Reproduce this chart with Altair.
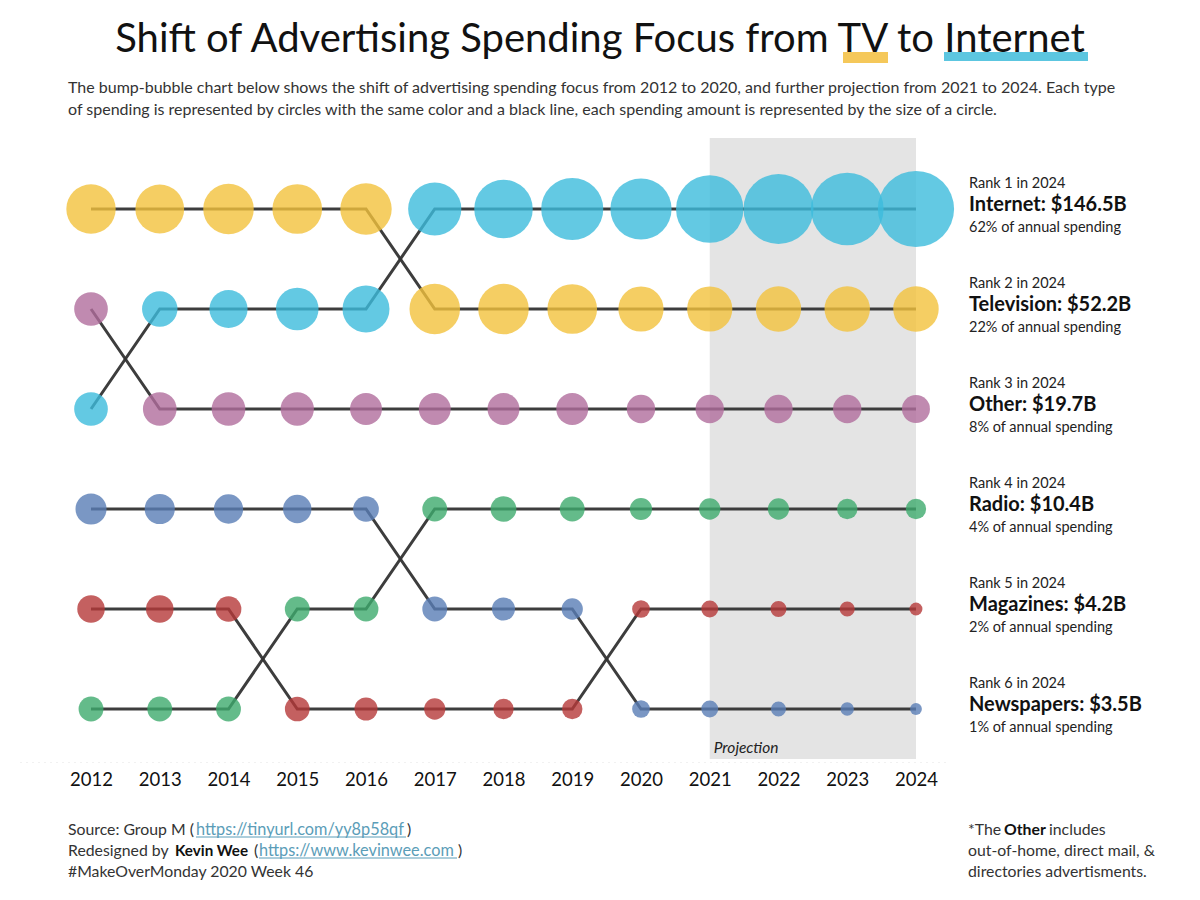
import altair as alt
import pandas as pd

# ---------------- data ----------------
years = [2012, 2013, 2014, 2015, 2016, 2017, 2018, 2019, 2020, 2021, 2022, 2023, 2024]
categories = ["Television", "Internet", "Other", "Radio", "Magazines", "Newspapers"]

tv_spend = [61.5, 60.0, 64.4, 62.2, 66.7, 64.4, 64.4, 62.2, 51.6, 51.6, 51.8, 52.0, 52.2]
internet_spend = [28.6, 31.7, 36.7, 45.7, 55.7, 71.4, 86.4, 97.2, 94.4, 114.6, 123.8, 133.4, 146.5]
other_spend = [28.6, 28.6, 28.6, 28.0, 25.7, 25.7, 25.7, 25.7, 20.3, 20.3, 20.3, 20.3, 19.7]
radio_spend = [15.6, 15.6, 15.6, 15.6, 15.6, 15.6, 16.7, 15.6, 12.4, 11.4, 11.4, 10.5, 10.4]
magazines_spend = [19.1, 19.1, 16.7, 15.4, 13.4, 11.4, 10.5, 10.5, 7.9, 7.2, 6.4, 5.7, 4.2]
newspapers_spend = [24.3, 22.9, 21.6, 20.3, 16.7, 15.6, 13.4, 11.4, 7.9, 7.2, 5.7, 4.5, 3.5]

tv_rank = [1, 1, 1, 1, 1, 2, 2, 2, 2, 2, 2, 2, 2]
internet_rank = [3, 2, 2, 2, 2, 1, 1, 1, 1, 1, 1, 1, 1]
other_rank = [2, 3, 3, 3, 3, 3, 3, 3, 3, 3, 3, 3, 3]
radio_rank = [6, 6, 6, 5, 5, 4, 4, 4, 4, 4, 4, 4, 4]
magazines_rank = [5, 5, 5, 6, 6, 6, 6, 6, 5, 5, 5, 5, 5]
newspapers_rank = [4, 4, 4, 4, 4, 5, 5, 5, 6, 6, 6, 6, 6]

colors = ["#F2C23C", "#3CBBDC", "#B06D9C", "#3DAA6D", "#B53838", "#597DB5"]

label_ranks = [1, 2, 3, 4, 5, 6]
label_rank_text = ["Rank 1 in 2024", "Rank 2 in 2024", "Rank 3 in 2024",
                   "Rank 4 in 2024", "Rank 5 in 2024", "Rank 6 in 2024"]
label_names = ["Internet: $146.5B", "Television: $52.2B", "Other: $19.7B",
               "Radio: $10.4B", "Magazines: $4.2B", "Newspapers: $3.5B"]
label_share = ["62% of annual spending", "22% of annual spending", "8% of annual spending",
               "4% of annual spending", "2% of annual spending", "1% of annual spending"]

projection_start = [2021]
projection_end = [2024]

title_text = "Shift of Advertising Spending Focus from TV to Internet"
subtitle_lines = [
    "The bump-bubble chart below shows the shift of advertising spending focus from 2012 to 2020, and further projection from 2021 to 2024. Each type",
    "of spending is represented by circles with the same color and a black line, each spending amount is represented by the size of a circle.",
]

# ---------------- build table ----------------
spend = {"Television": tv_spend, "Internet": internet_spend, "Other": other_spend,
         "Radio": radio_spend, "Magazines": magazines_spend, "Newspapers": newspapers_spend}
ranks = {"Television": tv_rank, "Internet": internet_rank, "Other": other_rank,
         "Radio": radio_rank, "Magazines": magazines_rank, "Newspapers": newspapers_rank}
rows = []
for c in categories:
    for y, s, r in zip(years, spend[c], ranks[c]):
        rows.append({"category": c, "year": y, "spend": s, "rank": r})
df = pd.DataFrame(rows)

labels = pd.DataFrame({"rank": label_ranks, "r": label_rank_text, "n": label_names, "p": label_share})
proj = pd.DataFrame({"start": projection_start, "end": projection_end, "t": ["Projection"]})

FONT = "Lato"
xscale = alt.Scale(domain=[2010.967, 2024.495], nice=False, zero=False)
yscale = alt.Scale(domain=[0.29, 6.53], nice=False, zero=False, reverse=True)

xenc = alt.X("year:Q", scale=xscale,
             axis=alt.Axis(values=years, format="d", title=None, grid=False, ticks=False,
                           labelFontSize=18.5, labelColor="#111", labelFont=FONT, labelPadding=8,
                           domainColor="#e2e2e2", domainDash=[1, 5], domainWidth=1,
                           labelFlush=False))
yenc = alt.Y("rank:Q", scale=yscale, axis=None)

band = alt.Chart(proj).mark_rect(color="#E4E4E4").encode(
    x=alt.X("start:Q", scale=xscale), x2="end:Q",
    y=alt.value(0), y2=alt.value(621))

proj_text = alt.Chart(proj).mark_text(align="left", baseline="middle", fontSize=15.5,
                                      fontStyle="italic", font=FONT, color="#222", dx=4).encode(
    x=alt.X("start:Q", scale=xscale), y=alt.value(610), text="t:N")

lines = alt.Chart(df).mark_line(color="#333", strokeWidth=3, opacity=0.95).encode(
    x=xenc, y=yenc, detail="category:N", order="year:Q")

circles = alt.Chart(df).mark_circle(opacity=0.8).encode(
    x=alt.X("year:Q", scale=xscale), y=yenc,
    size=alt.Size("spend:Q", scale=alt.Scale(domain=[0, 146.5], range=[0, 5809]), legend=None),
    color=alt.Color("category:N", scale=alt.Scale(domain=categories, range=colors), legend=None))

lab_r = alt.Chart(labels).mark_text(align="left", baseline="middle", fontSize=14.5, font=FONT,
                                    color="#222", dy=-25).encode(
    x=alt.value(949), y=alt.Y("rank:Q", scale=yscale), text="r:N")
lab_n = alt.Chart(labels).mark_text(align="left", baseline="middle", fontSize=20, font=FONT,
                                    fontWeight="bold", color="#111", dy=-4).encode(
    x=alt.value(949), y=alt.Y("rank:Q", scale=yscale), text="n:N")
lab_p = alt.Chart(labels).mark_text(align="left", baseline="middle", fontSize=14.5, font=FONT,
                                    color="#222", dy=19).encode(
    x=alt.value(949), y=alt.Y("rank:Q", scale=yscale), text="p:N")


def txt(s, x, y, size=15.8, weight="normal", color="#333", align="left", style="normal"):
    return alt.Chart(pd.DataFrame({"t": [s]})).mark_text(
        align=align, baseline="alphabetic", fontSize=size, font=FONT, fontWeight=weight,
        color=color, fontStyle=style).encode(x=alt.value(x), y=alt.value(y), text="t:N")


def uline(x1, x2, y, color, w=1):
    return alt.Chart(pd.DataFrame({"a": [0]})).mark_rule(color=color, strokeWidth=w).encode(
        x=alt.value(x1), x2=alt.value(x2), y=alt.value(y))


def bar(x1, x2, y1, y2, color):
    return alt.Chart(pd.DataFrame({"a": [0]})).mark_rect(color=color).encode(
        x=alt.value(x1), x2=alt.value(x2), y=alt.value(y1), y2=alt.value(y2))


LINK = "#5B9DB8"
decor = [
    bar(823, 868, -86, -75, "#F5C85A"),
    bar(924, 1068, -86, -77, "#5CC6E0"),
    txt(title_text, 580, -86, size=40, color="#111", align="center"),
    txt(subtitle_lines[0], 48, -45, size=16),
    txt(subtitle_lines[1], 48, -23, size=16),
    # footer left
    txt("Source: Group M (", 48, 697),
    txt("https://tinyurl.com/yy8p58qf", 176, 697, size=16.3, color=LINK),
    uline(176, 386, 699, LINK),
    txt(")", 387, 697),
    txt("Redesigned by", 48, 718),
    txt("Kevin Wee", 155, 718, size=15.2, weight="bold", color="#111"),
    txt("(", 234, 718),
    txt("https://www.kevinwee.com", 239, 718, size=16.3, color=LINK),
    uline(239, 437, 720, LINK),
    txt(")", 438, 718),
    txt("#MakeOverMonday 2020 Week 46", 48, 739),
    # footer right
    txt("*The", 948, 697),
    txt("Other", 984, 697, weight="bold", color="#111"),
    txt("includes", 1029, 697),
    txt("out-of-home, direct mail, &", 948, 718),
    txt("directories advertisments.", 948, 739),
]

chart = alt.layer(band, proj_text, lines, circles, lab_r, lab_n, lab_p, *decor).properties(
    width=930, height=624,
    autosize=alt.AutoSizeParams(type="none"),
    padding={"left": 20, "top": 138, "right": 250, "bottom": 138},
    background="white",
).configure_view(stroke=None)

chart.save("out.html", embed_options={"renderer": "svg", "actions": False})
